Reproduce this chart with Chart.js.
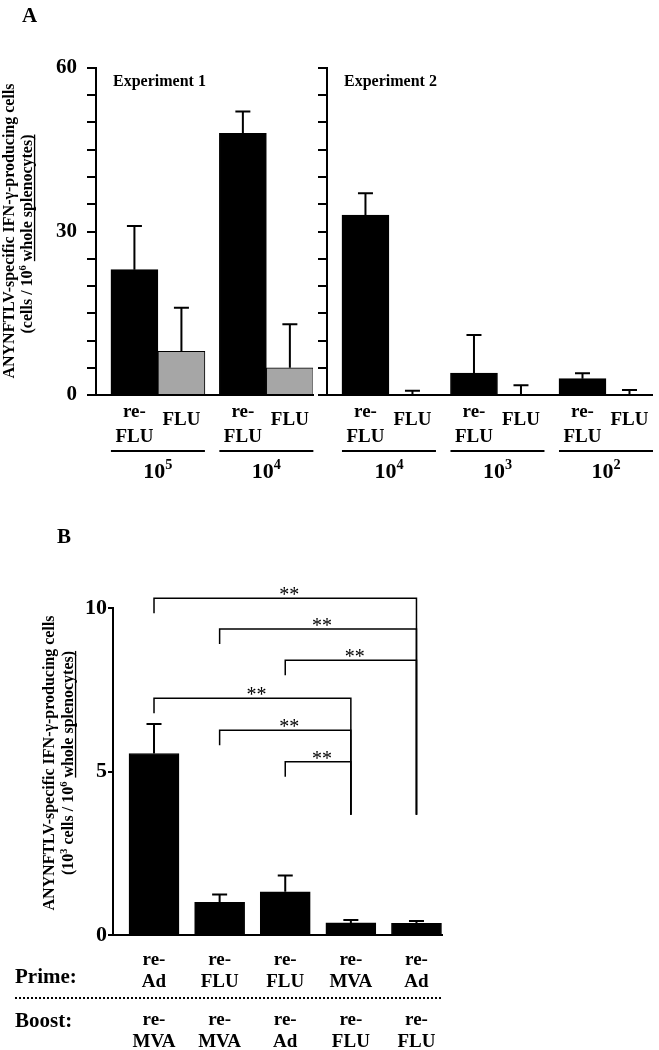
<!DOCTYPE html>
<html>
<head>
<meta charset="utf-8">
<script src="https://cdn.jsdelivr.net/npm/chart.js@4.4.0/dist/chart.umd.min.js"></script>
<style>
  html, body { margin: 0; padding: 0; background: #fff; }
  #wrap { position: relative; width: 659px; height: 1050px; }
  #wrap canvas { position: absolute; left: 0; top: 0; }
</style>
</head>
<body>
<div id="wrap">
  <canvas id="chartA1" width="659" height="1050"></canvas>
  <canvas id="chartA2" width="659" height="1050"></canvas>
  <canvas id="chartB" width="659" height="1050"></canvas>
</div>
<script>
// Panel A, experiment 1 (dose = 10^exponent)
const exp1Doses = ['5', '4'];
const exp1ReFlu = [23, 48];
const exp1ReFluErr = [8, 4];
const exp1Flu = [8, 5];
const exp1FluErr = [8, 8];

// Panel A, experiment 2
const exp2Doses = ['4', '3', '2'];
const exp2ReFlu = [33, 4, 3];
const exp2ReFluErr = [4, 7, 1];
const exp2Flu = [0, 0, 0];
const exp2FluErr = [0.8, 1.8, 0.9];

const panelATicks = [0, 30, 60];

// Panel B
const primeLabels = [['re-', 'Ad'], ['re-', 'FLU'], ['re-', 'FLU'], ['re-', 'MVA'], ['re-', 'Ad']];
const boostLabels = [['re-', 'MVA'], ['re-', 'MVA'], ['re-', 'Ad'], ['re-', 'FLU'], ['re-', 'FLU']];
const panelBValues = [5.55, 1.0, 1.32, 0.37, 0.36];
const panelBErr = [0.9, 0.24, 0.5, 0.09, 0.07];
const panelBTicks = [0, 5, 10];

// significance brackets (bar index pairs, height in y units)
const bracketFrom = [0, 1, 2, 0, 1, 2];
const bracketTo = [4, 4, 4, 3, 3, 3];
const bracketLevel = [10.3, 9.36, 8.4, 7.24, 6.26, 5.3];
const bracketFoot = 3.68;
const bracketMark = '**';

const SERIF = '"Liberation Serif", "Times New Roman", serif';
Chart.defaults.font.family = SERIF;
Chart.defaults.color = '#000';

function font(size, weight) {
    return (weight || 'bold') + ' ' + size + 'px ' + SERIF;
}

// text made of runs (optionally superscript / underlined), centred on cx, baseline cy
function drawRuns(ctx, runs, size, cx, cy) {
    let total = 0;
    runs.forEach(r => {
        ctx.font = font(r.sup ? size * 0.65 : size);
        r.w = ctx.measureText(r.t).width;
        total += r.w;
    });
    let x = cx - total / 2;
    ctx.textAlign = 'left';
    ctx.textBaseline = 'alphabetic';
    runs.forEach(r => {
        ctx.font = font(r.sup ? size * 0.65 : size);
        ctx.fillText(r.t, x, r.sup ? cy - size * 0.4 : cy);
        if (r.u) ctx.fillRect(x, cy + size * 0.12, r.w, 1.3);
        x += r.w;
    });
}

function drawVertical(ctx, runs, size, x, cy) {
    ctx.save();
    ctx.translate(x, cy);
    ctx.rotate(-Math.PI / 2);
    drawRuns(ctx, runs, size, 0, 0);
    ctx.restore();
}

const titleLine1 = [{ t: 'ANYNFTLV-specific IFN-\u03b3-producing cells' }];

// upward error bars from dataset.errors
const errorBars = {
    id: 'errorBars',
    afterDatasetsDraw(chart) {
        const ctx = chart.ctx;
        const y = chart.scales.y;
        ctx.save();
        ctx.strokeStyle = '#000';
        ctx.lineWidth = 2;
        chart.data.datasets.forEach((ds, i) => {
            if (!ds.errors) return;
            chart.getDatasetMeta(i).data.forEach((bar, j) => {
                const top = y.getPixelForValue(ds.data[j].y);
                const end = y.getPixelForValue(ds.data[j].y + ds.errors[j]);
                ctx.beginPath();
                ctx.moveTo(bar.x, top);
                ctx.lineTo(bar.x, end);
                ctx.moveTo(bar.x - 7.5, end);
                ctx.lineTo(bar.x + 7.5, end);
                ctx.stroke();
            });
        });
        ctx.restore();
    }
};

// labels under panel A bars, group rules and doses, heading
const belowA = {
    id: 'belowA',
    afterDraw(chart, args, opts) {
        const ctx = chart.ctx;
        const area = chart.chartArea;
        const b = area.bottom;
        const m0 = chart.getDatasetMeta(0).data;
        const m1 = chart.getDatasetMeta(1).data;
        ctx.save();
        ctx.fillStyle = '#000';
        ctx.textAlign = 'center';
        ctx.textBaseline = 'alphabetic';
        ctx.font = font(19);
        chart.data.datasets.forEach((ds, i) => {
            chart.getDatasetMeta(i).data.forEach(bar => {
                if (ds.lines.length === 2) {
                    ctx.fillText(ds.lines[0], bar.x, b + 22);
                    ctx.fillText(ds.lines[1], bar.x, b + 47);
                } else {
                    ctx.fillText(ds.lines[0], bar.x, b + 30);
                }
            });
        });
        opts.doses.forEach((e, j) => {
            const l = m0[j].x - m0[j].width / 2;
            const r = m1[j].x + m1[j].width / 2;
            ctx.fillRect(l, b + 55, r - l, 2);
            drawRuns(ctx, [{ t: '10' }, { t: e, sup: true }], 22, (l + r) / 2, b + 83);
        });
        ctx.textAlign = 'left';
        ctx.font = font(16);
        ctx.fillText(opts.heading, area.left + 17, area.top + 18);

        if (opts.panelTitle) {
            ctx.font = font(21);
            ctx.fillText('A', 22, 22);
            drawVertical(ctx, titleLine1, 16, 14, 231);
            drawVertical(ctx, [{ t: '(cells / 10' }, { t: '6', sup: true }, { t: ' ' },
                { t: 'whole splenocytes)', u: true }], 16, 32, 234);
        }
        ctx.restore();
    }
};

function panelA(id, doses, reFlu, reFluErr, flu, fluErr, area, xRange, tickLabels, heading, panelTitle) {
    const pts = arr => arr.map((v, i) => ({ x: i, y: v }));
    return new Chart(document.getElementById(id), {
        type: 'bar',
        data: {
            datasets: [
                { label: 're-FLU', data: pts(reFlu), errors: reFluErr, lines: ['re-', 'FLU'],
                  backgroundColor: '#000', borderColor: '#000', borderWidth: 1, barThickness: 47 },
                { label: 'FLU', data: pts(flu), errors: fluErr, lines: ['FLU'],
                  backgroundColor: '#a6a6a6', borderColor: '#000', borderWidth: 1, barThickness: 47 }
            ]
        },
        options: {
            responsive: false,
            animation: false,
            layout: { padding: { left: 0, top: area.top, right: 659 - area.right, bottom: 0 } },
            scales: {
                x: {
                    type: 'linear', offset: false, min: xRange[0], max: xRange[1],
                    ticks: { display: false },
                    grid: { display: false },
                    border: { color: '#000', width: 2 },
                    afterFit: s => { s.height = 1050 - area.bottom; }
                },
                y: {
                    min: 0, max: 60,
                    ticks: {
                        stepSize: 5, autoSkip: false, padding: 10,
                        font: { size: 21, weight: 'bold' },
                        callback: v => tickLabels.includes(v) ? v : ''
                    },
                    grid: { drawOnChartArea: false, drawTicks: true, tickLength: 9, color: '#000', lineWidth: 2 },
                    border: { color: '#000', width: 2 },
                    afterFit: s => { s.width = area.left; }
                }
            },
            plugins: {
                legend: { display: false },
                tooltip: { enabled: false },
                belowA: { doses: doses, heading: heading, panelTitle: panelTitle }
            }
        },
        plugins: [errorBars, belowA]
    });
}

panelA('chartA1', exp1Doses, exp1ReFlu, exp1ReFluErr, exp1Flu, exp1FluErr,
    { left: 96, right: 313, top: 68, bottom: 395 }, [-0.571, 1.43], panelATicks, 'Experiment 1', true);
panelA('chartA2', exp2Doses, exp2ReFlu, exp2ReFluErr, exp2Flu, exp2FluErr,
    { left: 327, right: 652, top: 68, bottom: 395 }, [-0.571, 2.424], [], 'Experiment 2', false);

// Panel B decorations: brackets, prime/boost labels, titles
const decorB = {
    id: 'decorB',
    afterDraw(chart) {
        const ctx = chart.ctx;
        const xs = chart.scales.x;
        const ys = chart.scales.y;
        const b = chart.chartArea.bottom;
        ctx.save();
        ctx.fillStyle = '#000';
        ctx.strokeStyle = '#000';

        // significance brackets
        ctx.lineWidth = 1.5;
        bracketFrom.forEach((f, k) => {
            const xl = xs.getPixelForValue(f);
            const xr = xs.getPixelForValue(bracketTo[k]);
            const yl = ys.getPixelForValue(bracketLevel[k]);
            ctx.beginPath();
            ctx.moveTo(xl, yl + 15);
            ctx.lineTo(xl, yl);
            ctx.lineTo(xr, yl);
            ctx.lineTo(xr, ys.getPixelForValue(bracketFoot));
            ctx.stroke();
            ctx.font = font(20, 'normal');
            ctx.textAlign = 'center';
            ctx.textBaseline = 'alphabetic';
            ctx.fillText(bracketMark, (xl + xr) / 2 + 4, yl + 3);
        });

        // prime / boost labels
        ctx.font = font(19);
        ctx.textAlign = 'center';
        primeLabels.forEach((p, i) => {
            const x = xs.getPixelForValue(i);
            ctx.fillText(p[0], x, b + 30);
            ctx.fillText(p[1], x, b + 52);
            ctx.fillText(boostLabels[i][0], x, b + 90);
            ctx.fillText(boostLabels[i][1], x, b + 112);
        });
        ctx.font = font(21);
        ctx.textAlign = 'left';
        ctx.fillText('Prime:', 15, b + 48);
        ctx.fillText('Boost:', 15, b + 92);

        ctx.lineWidth = 2;
        ctx.setLineDash([2, 2]);
        ctx.beginPath();
        ctx.moveTo(15, b + 63);
        ctx.lineTo(chart.chartArea.right, b + 63);
        ctx.stroke();
        ctx.setLineDash([]);

        ctx.font = font(21);
        ctx.fillText('B', 57, 543);
        drawVertical(ctx, titleLine1, 16, 54, 763);
        drawVertical(ctx, [{ t: '(10' }, { t: '3', sup: true }, { t: ' cells / 10' }, { t: '6', sup: true },
            { t: ' ' }, { t: 'whole splenocytes)', u: true }], 16, 73, 763);
        ctx.restore();
    }
};

const areaB = { left: 113, right: 442, top: 608, bottom: 935 };
new Chart(document.getElementById('chartB'), {
    type: 'bar',
    data: {
        datasets: [{
            data: panelBValues.map((v, i) => ({ x: i, y: v })),
            errors: panelBErr,
            backgroundColor: '#000', borderColor: '#000', borderWidth: 1, barThickness: 50
        }]
    },
    options: {
        responsive: false,
        animation: false,
        layout: { padding: { left: 0, top: areaB.top, right: 659 - areaB.right, bottom: 0 } },
        scales: {
            x: {
                type: 'linear', offset: false, min: -0.625, max: 4.389,
                ticks: { display: false },
                grid: { display: false },
                border: { color: '#000', width: 2 },
                afterFit: s => { s.height = 1050 - areaB.bottom; }
            },
            y: {
                min: 0, max: 10,
                ticks: {
                    stepSize: 5, autoSkip: false, padding: 1,
                    font: { size: 22, weight: 'bold' },
                    callback: v => panelBTicks.includes(v) ? v : ''
                },
                grid: { drawOnChartArea: false, drawTicks: true, tickLength: 5, color: '#000', lineWidth: 2 },
                border: { color: '#000', width: 2 },
                afterFit: s => { s.width = areaB.left; }
            }
        },
        plugins: {
            legend: { display: false },
            tooltip: { enabled: false }
        }
    },
    plugins: [errorBars, decorB]
});
</script>
</body>
</html>
